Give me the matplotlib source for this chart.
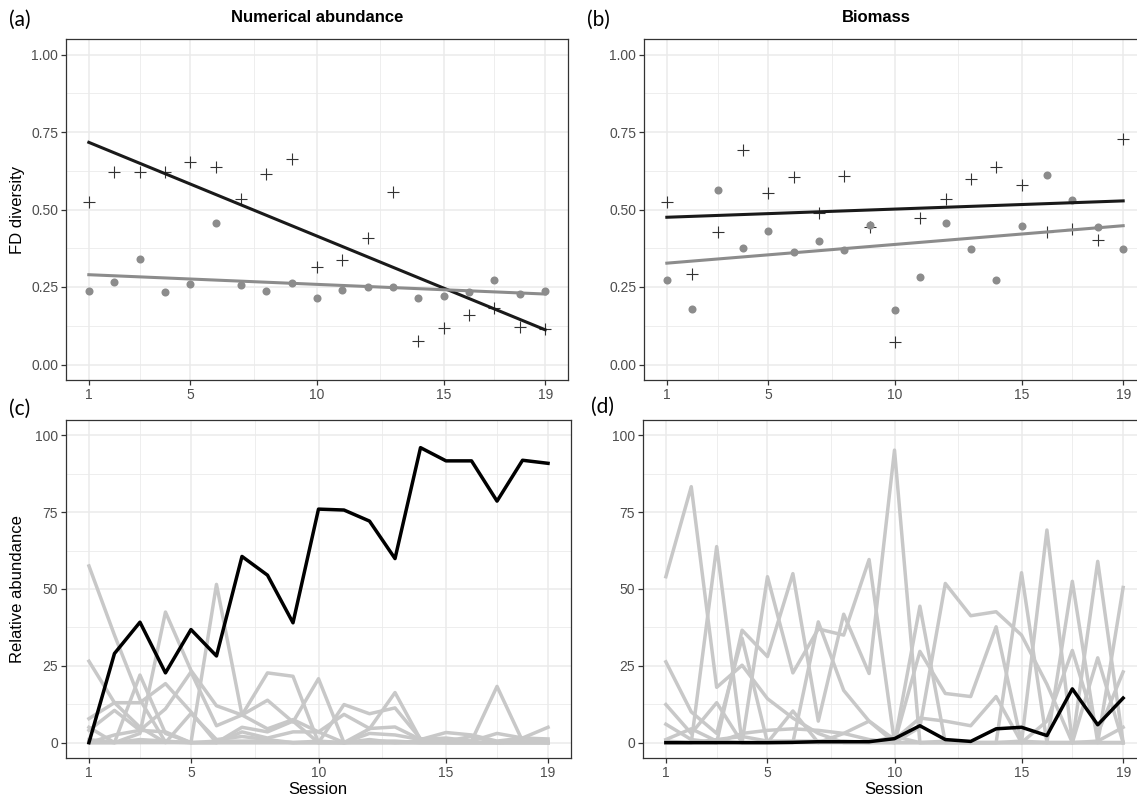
import numpy as np
import matplotlib
matplotlib.use("Agg")
import matplotlib.pyplot as plt
from matplotlib.ticker import MultipleLocator, FixedLocator

# ---------------- data ----------------
sessions = np.arange(1, 20)
x_ticks = [1, 5, 10, 15, 19]

# (a) Numerical abundance - FD diversity
a_cross = [0.524, 0.620, 0.622, 0.622, 0.652, 0.638, 0.533, 0.616, 0.663, 0.313,
           0.338, 0.407, 0.556, 0.075, 0.117, 0.159, 0.181, 0.120, 0.115]
a_dot = [0.238, 0.266, 0.341, 0.233, 0.261, 0.455, 0.255, 0.238, 0.263, 0.215,
         0.241, 0.249, 0.250, 0.214, 0.222, 0.234, 0.273, 0.227, 0.236]

# (b) Biomass - FD diversity
b_cross = [0.524, 0.293, 0.427, 0.691, 0.552, 0.605, 0.490, 0.607, 0.445, 0.073,
           0.474, 0.533, 0.600, 0.638, 0.580, 0.429, 0.436, 0.403, 0.726]
b_dot = [0.271, 0.180, 0.563, 0.375, 0.431, 0.364, 0.397, 0.368, 0.450, 0.176,
         0.283, 0.456, 0.372, 0.273, 0.446, 0.610, 0.531, 0.442, 0.371]

# (c) Relative abundance (numerical)
c_focus = [0, 29.0, 39.2, 22.7, 36.8, 28.2, 60.6, 54.5, 39.0, 76.0,
           75.7, 72.1, 59.9, 96.0, 91.7, 91.7, 78.6, 91.9, 90.9]
c_others = [
    [57.5, 35, 14, 0.2, 0, 0, 0, 0, 0, 0, 0, 0, 0, 0, 0, 0, 0, 0, 0],
    [0, 0, 3, 42.5, 23.5, 12, 9, 22.7, 21.6, 0, 0, 0, 0, 0, 0, 0, 0, 0, 0],
    [26.5, 13, 5, 0, 0, 0, 0, 0, 0, 0, 0, 0, 0, 0, 0, 0, 0, 0, 0],
    [7.8, 13, 13, 19.2, 10, 0, 5, 3.5, 7, 0, 12.4, 9.4, 11.3, 1.3, 0, 0, 0, 0, 0],
    [0, 0, 22, 3, 0, 51.5, 9, 13.8, 6.7, 20.8, 0, 4.5, 16.3, 1, 1.5, 0.5, 18.3, 0.5, 0],
    [4, 10.5, 4, 11, 23, 5.5, 9, 4.5, 7.5, 3.5, 9.2, 4.6, 5.1, 1, 3.3, 2.5, 0.5, 1.5, 5],
    [0, 2.5, 4, 3.5, 0, 0, 3.5, 1.5, 3.5, 3.5, 0, 3, 2.5, 1, 0.5, 0.5, 3, 1.5, 1.2],
    [5, 0, 0, 0, 9.5, 1, 2, 1, 0, 0, 0, 1, 0, 0.5, 0.5, 2, 0, 0.5, 0.5],
    [1, 0, 1, 0.5, 0, 0.5, 0.5, 0.5, 0, 0.5, 0, 0.5, 0.5, 0, 0, 0, 0, 0, 0],
]

# (d) Relative abundance (biomass)
d_focus = [0, 0, 0, 0, 0, 0.1, 0.3, 0.3, 0.3, 1.3,
           5.5, 1.0, 0.4, 4.5, 5.0, 2.3, 17.5, 5.8, 14.5]
d_others = [
    [54.0, 83.3, 18.0, 25.2, 14.3, 8.0, 3.0, 0, 0, 0, 0, 0, 0, 0, 0, 0, 0, 0, 0],
    [0, 0, 63.8, 0, 54.0, 22.7, 37.0, 35.0, 59.6, 0, 0, 0, 0, 0, 0, 0, 0, 0, 0],
    [0, 0, 0, 36.6, 28.0, 55.0, 7.0, 41.8, 22.5, 95.2, 0, 0, 0, 0, 0, 0, 0, 0, 0],
    [26.3, 10.0, 3.0, 34.0, 0, 0, 39.3, 17.0, 7.0, 0, 44.4, 0, 0, 0, 55.3, 0, 52.5, 0, 50.5],
    [12.4, 3.0, 13.0, 0, 0, 10.3, 0, 0, 0, 0, 29.7, 16.0, 15.0, 37.7, 0, 69.2, 0, 59.0, 0],
    [6.0, 1.0, 0, 3.0, 4.0, 4.5, 4.0, 3.0, 1.0, 0, 5.0, 51.8, 41.3, 42.6, 35.0, 19.0, 0, 27.6, 0],
    [1.0, 4.5, 0.5, 0, 0, 0, 0, 3.0, 7.0, 1.0, 8.0, 7.0, 5.5, 15.0, 0, 7.0, 30.0, 3.0, 23.0],
    [0.5, 0, 1.0, 2.0, 0.5, 0.5, 0.5, 0.5, 0, 2.0, 0, 0.5, 0, 0, 0.5, 0, 0, 0.5, 5.0],
]

titles = ["Numerical abundance", "Biomass"]
panel_tags = ["(a)", "(b)", "(c)", "(d)"]

# ---------------- style ----------------
W, H = 1137, 800
FONT = "Liberation Sans"
TICK_COL = "#4D4D4D"
BORDER = "#333333"
GRID = "#EBEBEB"

fig = plt.figure(figsize=(W / 100, H / 100), dpi=100)


def px_axes(left, top, right, bottom):
    return fig.add_axes([left / W, 1 - bottom / H, (right - left) / W, (bottom - top) / H])


def style(ax, ylim, ymajor, yfmt):
    ax.set_xlim(0.1, 19.9)
    ax.set_ylim(*ylim)
    ax.xaxis.set_major_locator(FixedLocator(x_ticks))
    ax.xaxis.set_minor_locator(FixedLocator([3, 7.5, 12.5, 17]))
    ax.yaxis.set_major_locator(MultipleLocator(ymajor))
    ax.yaxis.set_minor_locator(MultipleLocator(ymajor / 2))
    ax.yaxis.set_major_formatter(yfmt)
    ax.grid(True, which="major", color=GRID, linewidth=1.1)
    ax.grid(True, which="minor", color=GRID, linewidth=0.6)
    ax.set_axisbelow(True)
    for s in ax.spines.values():
        s.set_color(BORDER)
        s.set_linewidth(0.9)
    ax.tick_params(which="major", length=3.6, width=0.9, color=BORDER,
                   labelcolor=TICK_COL, labelsize=10, pad=2)
    ax.tick_params(which="minor", length=0)
    for lab in ax.get_xticklabels() + ax.get_yticklabels():
        lab.set_fontfamily(FONT)


def fd_panel(ax, cross, dot):
    ax.plot(sessions, cross, linestyle="none", marker="+", markersize=9,
            markeredgewidth=0.8, color="#333333", zorder=3)
    ax.plot(sessions, dot, linestyle="none", marker="o", markersize=5.8,
            color="#8C8C8C", markeredgewidth=0, zorder=3)
    kc = np.polyfit(sessions, cross, 1)
    kd = np.polyfit(sessions, dot, 1)
    xs = np.array([sessions[0], sessions[-1]])
    ax.plot(xs, np.polyval(kc, xs), color="#1A1A1A", linewidth=2.2, zorder=4)
    ax.plot(xs, np.polyval(kd, xs), color="#8C8C8C", linewidth=2.2, zorder=4)
    style(ax, (-0.05, 1.05), 0.25, "{x:.2f}")


def ra_panel(ax, focus, others):
    for s in others:
        ax.plot(sessions, s, color="#C8C8C8", linewidth=2.5, zorder=2)
    ax.plot(sessions, focus, color="black", linewidth=2.5, zorder=3)
    style(ax, (-5, 105), 25, "{x:.0f}")


ax_a = px_axes(66, 39, 568, 380)
ax_b = px_axes(644, 39, 1146, 380)
ax_c = px_axes(66, 420, 571, 758)
ax_d = px_axes(643, 420, 1146, 758)

fd_panel(ax_a, a_cross, a_dot)
fd_panel(ax_b, b_cross, b_dot)
ra_panel(ax_c, c_focus, c_others)
ra_panel(ax_d, d_focus, d_others)

# titles
fig.text(317 / W, 1 - 18 / H, titles[0], ha="center", va="center",
         fontsize=12, fontweight="bold", family=FONT)
fig.text(876 / W, 1 - 18 / H, titles[1], ha="center", va="center",
         fontsize=12, fontweight="bold", family=FONT)

# axis labels
fig.text(18 / W, 1 - 210 / H, "FD diversity", rotation=90, ha="center", va="center",
         fontsize=12, family=FONT)
fig.text(18 / W, 1 - 589 / H, "Relative abundance", rotation=90, ha="center", va="center",
         fontsize=12, family=FONT)
fig.text(318 / W, 1 - 790 / H, "Session", ha="center", va="center", fontsize=12, family=FONT)
fig.text(894 / W, 1 - 790 / H, "Session", ha="center", va="center", fontsize=12, family=FONT)

# panel tags
for tag, (px, py) in zip(panel_tags, [(20, 20), (598, 20), (20, 409), (602, 407)]):
    fig.text(px / W, 1 - py / H, tag, ha="center", va="center", fontsize=15, family="Lato")

fig.savefig("out.png", dpi=100)
